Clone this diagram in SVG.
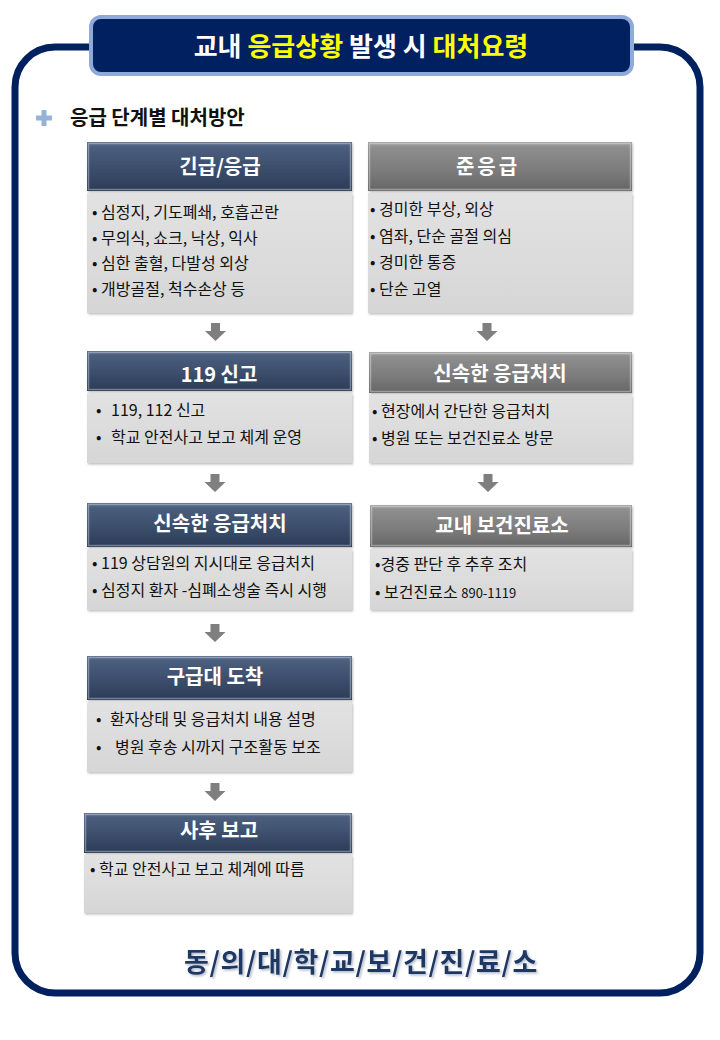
<svg xmlns="http://www.w3.org/2000/svg" width="720" height="1040" viewBox="0 0 720 1040">
<defs>
<linearGradient id="gNavy" x1="0" y1="0" x2="0" y2="1">
<stop offset="0" stop-color="#5b6e8e"/>
<stop offset="0.12" stop-color="#4a5d7c"/>
<stop offset="0.6" stop-color="#3a4c6a"/>
<stop offset="1" stop-color="#2b3b56"/>
</linearGradient>
<linearGradient id="gGray" x1="0" y1="0" x2="0" y2="1">
<stop offset="0" stop-color="#a3a3a3"/>
<stop offset="0.12" stop-color="#8e8e8e"/>
<stop offset="0.6" stop-color="#7b7b7b"/>
<stop offset="1" stop-color="#666666"/>
</linearGradient>
<linearGradient id="gBody" x1="0" y1="0" x2="0" y2="1">
<stop offset="0" stop-color="#e2e2e2"/>
<stop offset="1" stop-color="#d6d6d6"/>
</linearGradient>
<filter id="sh" x="-5%" y="-5%" width="110%" height="115%">
<feDropShadow dx="1" dy="1.5" stdDeviation="1.2" flood-color="#000" flood-opacity="0.25"/>
</filter>
<filter id="tsh" x="-5%" y="-20%" width="110%" height="140%">
<feDropShadow dx="1.5" dy="1.5" stdDeviation="0.8" flood-color="#9aa6bd" flood-opacity="0.8"/>
</filter>
<path id="arrow" d="M-4.5 0 H4.5 V8 H10.5 L0 18 L-10.5 8 H-4.5 Z" fill="#7f7f7f"/>
</defs>
<style>
.hn{fill:url(#gNavy);filter:url(#sh)}
.hg{fill:url(#gGray);filter:url(#sh)}
.hl{fill:none;stroke:#ffffff;stroke-opacity:0.35;stroke-width:1.5}
.bd{fill:url(#gBody);filter:url(#sh)}
.ht{font-family:"Noto Sans CJK KR","Noto Sans",sans-serif;font-weight:bold;font-size:20px;fill:#ffffff;text-anchor:middle}
.bt{font-family:"Noto Sans CJK KR","Noto Sans",sans-serif;font-size:16px;fill:#111111}
</style>
<rect x="0" y="0" width="720" height="1040" fill="#ffffff"/>

<g id="frame">
<rect x="15" y="47" width="685" height="946" rx="40" ry="40" fill="#ffffff" stroke="#012060" stroke-width="7"/>
</g>

<g id="title">
<rect x="91" y="17" width="541" height="57" rx="10" ry="10" fill="#012060" stroke="#8eaadb" stroke-width="4"/>
<text x="361" y="56" font-family="'Noto Sans CJK KR','Noto Sans',sans-serif" font-weight="bold" font-size="26" text-anchor="middle" fill="#ffffff">교내 <tspan fill="#ffff00">응급상황</tspan> 발생 시 <tspan fill="#ffff00">대처요령</tspan></text>
</g>

<g id="subtitle">
<path d="M41.5 110 h5 v5.5 h5.5 v5 h-5.5 v5.5 h-5 v-5.5 h-5.5 v-5 h5.5 Z" fill="#95b3d7"/>
<text x="70" y="125" font-family="'Noto Sans CJK KR','Noto Sans',sans-serif" font-weight="bold" font-size="20" fill="#111111">응급 단계별 대처방안</text>
</g>

<g id="n1">
<rect class="hn" x="87" y="142" width="265" height="49"/>
<rect class="hl" x="88.5" y="143.5" width="262" height="46"/>
<rect class="bd" x="87" y="193" width="265" height="120"/>
<text class="ht" x="220" y="174" font-size="22">긴급/응급</text>
<text class="bt" x="92" y="218">• 심정지, 기도폐쇄, 호흡곤란</text>
<text class="bt" x="92" y="244">• 무의식, 쇼크, 낙상, 익사</text>
<text class="bt" x="92" y="269">• 심한 출혈, 다발성 외상</text>
<text class="bt" x="92" y="295">• 개방골절, 척수손상 등</text>
</g>

<g id="n2">
<rect class="hg" x="368" y="142" width="264" height="49"/>
<rect class="hl" x="369.5" y="143.5" width="261" height="46"/>
<rect class="bd" x="368" y="193" width="264" height="120"/>
<text class="ht" x="488" y="174" font-size="22" letter-spacing="3">준응급</text>
<text class="bt" x="370" y="215">• 경미한 부상, 외상</text>
<text class="bt" x="370" y="242">• 염좌, 단순 골절 의심</text>
<text class="bt" x="370" y="268">• 경미한 통증</text>
<text class="bt" x="370" y="295">• 단순 고열</text>
</g>

<g id="n3">
<rect class="hn" x="87" y="351" width="265" height="40"/>
<rect class="hl" x="88.5" y="352.5" width="262" height="37"/>
<rect class="bd" x="87" y="393" width="265" height="70"/>
<text class="ht" x="219" y="382" font-size="17">119 신고</text>
<text class="bt" x="96" y="416">•</text>
<text class="bt" x="111" y="416">119, 112 신고</text>
<text class="bt" x="96" y="443">•</text>
<text class="bt" x="111" y="443">학교 안전사고 보고 체계 운영</text>
</g>

<g id="n4">
<rect class="hg" x="369" y="352" width="263" height="41"/>
<rect class="hl" x="370.5" y="353.5" width="260" height="38"/>
<rect class="bd" x="369" y="395" width="263" height="68"/>
<text class="ht" x="500" y="381" font-size="20.5">신속한 응급처치</text>
<text class="bt" x="372" y="417">• 현장에서 간단한 응급처치</text>
<text class="bt" x="372" y="444">• 병원 또는 보건진료소 방문</text>
</g>

<g id="n5">
<rect class="hn" x="87" y="503" width="265" height="44"/>
<rect class="hl" x="88.5" y="504.5" width="262" height="41"/>
<rect class="bd" x="87" y="549" width="265" height="61"/>
<text class="ht" x="220" y="531" font-size="21">신속한 응급처치</text>
<text class="bt" x="92" y="569" font-size="15.3">• 119 상담원의 지시대로 응급처치</text>
<text class="bt" x="92" y="596" font-size="15.3">• 심정지 환자 -심폐소생술 즉시 시행</text>
</g>

<g id="n6">
<rect class="hg" x="370" y="505" width="262" height="42"/>
<rect class="hl" x="371.5" y="506.5" width="259" height="39"/>
<rect class="bd" x="370" y="549" width="262" height="61"/>
<text class="ht" x="502" y="533" font-size="21.5">교내 보건진료소</text>
<text class="bt" x="375" y="570">•경중 판단 후 추후 조치</text>
<text class="bt" x="375" y="598">• 보건진료소 <tspan font-size="13">890-1119</tspan></text>
</g>

<g id="n7">
<rect class="hn" x="87" y="656" width="265" height="44"/>
<rect class="hl" x="88.5" y="657.5" width="262" height="41"/>
<rect class="bd" x="87" y="702" width="265" height="70"/>
<text class="ht" x="215" y="684" font-size="18.5">구급대 도착</text>
<text class="bt" x="96" y="725">•</text>
<text class="bt" x="110" y="725" font-size="16.8">환자상태 및 응급처치 내용 설명</text>
<text class="bt" x="96" y="753">•</text>
<text class="bt" x="115" y="753" font-size="16.8">병원 후송 시까지 구조활동 보조</text>
</g>

<g id="n8">
<rect class="hn" x="84" y="813" width="268" height="40"/>
<rect class="hl" x="85.5" y="814.5" width="265" height="37"/>
<rect class="bd" x="84" y="855" width="268" height="58"/>
<text class="ht" x="219" y="838" font-size="17">사후 보고</text>
<text class="bt" x="90" y="875">• 학교 안전사고 보고 체계에 따름</text>
</g>

<g id="connectors">
<use href="#arrow" x="215.5" y="323"/>
<use href="#arrow" x="487" y="323"/>
<use href="#arrow" x="215" y="474"/>
<use href="#arrow" x="488" y="474"/>
<use href="#arrow" x="215" y="624"/>
<use href="#arrow" x="215" y="783"/>
</g>

<g id="footer">
<text x="361" y="972" font-family="'Noto Sans CJK KR','Noto Sans',sans-serif" font-weight="bold" font-size="27" letter-spacing="0.6" text-anchor="middle" fill="#1f3864" filter="url(#tsh)">동/의/대/학/교/보/건/진/료/소</text>
</g>
</svg>
